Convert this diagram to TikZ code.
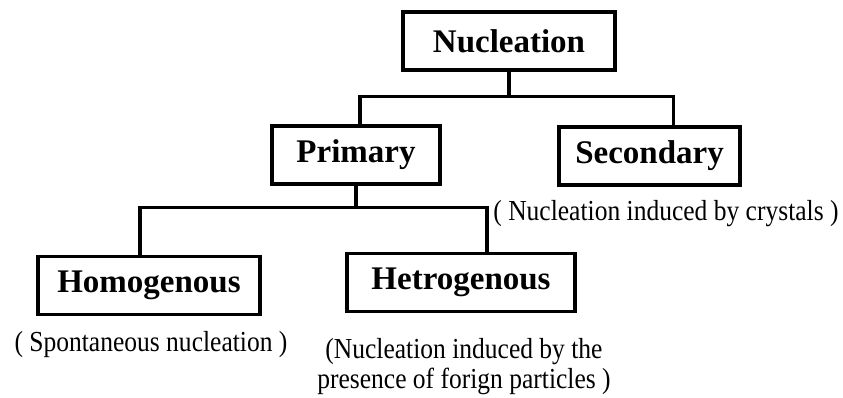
\documentclass[tikz,border=0pt]{standalone}
\usepackage{fontspec}
\setmainfont{Liberation Serif}
\newfontfamily\notefont{Liberation Serif}[FakeStretch=0.88]
\usetikzlibrary{positioning}

\begin{document}
\begin{tikzpicture}[x=1pt, y=-1pt]
\tikzstyle{box}=[draw, line width=3.5pt, minimum height=58pt, inner sep=0pt,
font=\fontsize{33}{38}\selectfont\bfseries]
\tikzstyle{note}=[inner sep=0pt, font=\notefont\fontsize{29}{30}\selectfont, align=center]
\tikzstyle{link}=[line width=3.5pt]

\useasboundingbox (0,0) rectangle (843,398);

% boxes
\node (nuc) at (509,41) [box, minimum width=212pt] {Nucleation};
\node (prim) at (356,155) [box, minimum width=168pt] {Primary};
\node (sec) at (649.5,156) [box, minimum width=181pt] {Secondary};
\node (homo) at (149,285.5) [box, minimum width=222pt] {Homogenous};
\node (het) at (461,282.5) [box, minimum width=228pt] {Hetrogenous};

% notes
\node (secnote) [note, below=13pt of sec, xshift=16.5pt] {( Nucleation induced by crystals )};
\node (homonote) [note, below=15pt of homo, xshift=2pt] {( Spontaneous nucleation )};
\node (hetnote) [note, below=25pt of het, xshift=3pt] {(Nucleation induced by the\\ presence of forign particles )};

% connections
\draw[link] (nuc.south) -- ++(0,25) coordinate (j1);
\draw[link] ([xshift=4pt]prim.north) |- (j1) -| ([xshift=24pt]sec.north);
\draw[link] (prim.south) -- ++(0,22) coordinate (j2);
\draw[link] ([xshift=-9pt]homo.north) |- (j2) -| ([xshift=26pt]het.north);

\end{tikzpicture}
\end{document}
